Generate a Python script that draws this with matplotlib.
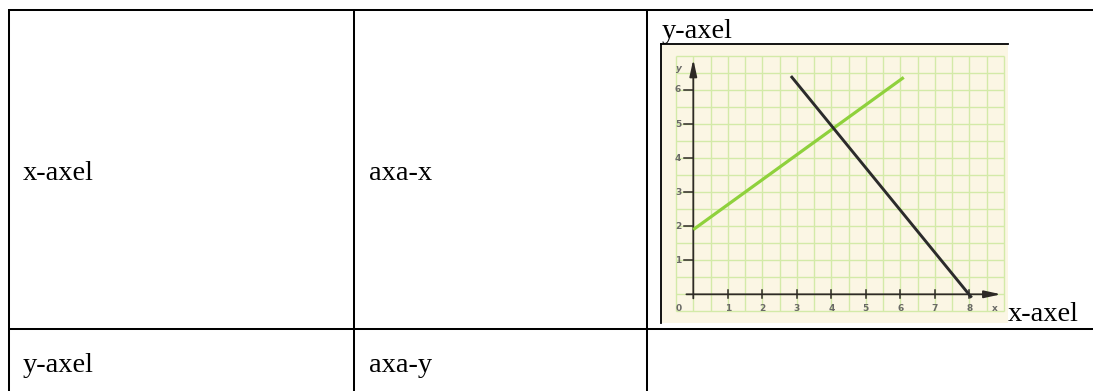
import numpy as np
import matplotlib
matplotlib.use("Agg")
import matplotlib.pyplot as plt

# ---------------- data ----------------
col1_texts = ["x-axel", "y-axel"]
col2_texts = ["axa-x", "axa-y"]
image_top_label = "y-axel"
image_right_label = "x-axel"

green_x = [0.0, 6.1]
green_y = [1.9, 6.37]
black_x = [2.83, 8.07]
black_y = [6.41, -0.1]

x_tick_values = [1, 2, 3, 4, 5, 6, 7, 8]
y_tick_values = [1, 2, 3, 4, 5, 6]
x_tick_labels = ["1", "2", "3", "4", "5", "6", "7", "8"]
y_tick_labels = ["1", "2", "3", "4", "5", "6"]

# ---------------- figure ----------------
W, H = 1093, 391
fig = plt.figure(figsize=(W / 100, H / 100), dpi=100)
fig.patch.set_facecolor("white")

bg = fig.add_axes([0, 0, 1, 1])
bg.set_xlim(0, W)
bg.set_ylim(H, 0)
bg.axis("off")

serif = ["Liberation Serif", "DejaVu Serif"]
tfs = 20.5
lw_tab = 1.45

# table lines
bg.plot([9, W + 5], [10, 10], color="black", lw=lw_tab, solid_capstyle="butt")
bg.plot([9, W + 5], [328.5, 328.5], color="black", lw=lw_tab, solid_capstyle="butt")
for xv in [9.3, 354, 647]:
    bg.plot([xv, xv], [9.3, H + 5], color="black", lw=lw_tab, solid_capstyle="butt")

# cell texts
row_baselines = [180.5, 372]
for i, (t1, t2) in enumerate(zip(col1_texts, col2_texts)):
    bg.text(23, row_baselines[i], t1, family=serif, fontsize=tfs, va="baseline", ha="left", color="black")
    bg.text(369, row_baselines[i], t2, family=serif, fontsize=tfs, va="baseline", ha="left", color="black")

bg.text(662, 38.5, image_top_label, family=serif, fontsize=tfs, va="baseline", ha="left", color="black")
bg.text(1008, 321, image_right_label, family=serif, fontsize=tfs, va="baseline", ha="left", color="black")

# ---------------- embedded graph ----------------
L, R, T, B = 661, 1008, 44, 323
ax = fig.add_axes([L / W, (H - B) / H, (R - L) / W, (B - T) / H])
x0px, xunit = 693.3, 34.5
y0px, yunit = 294.3, 34.05
ax.set_xlim((L - x0px) / xunit, (R - x0px) / xunit)
ax.set_ylim((y0px - B) / yunit, (y0px - T) / yunit)
ax.set_facecolor("#fbf6e4")
for s in ["right", "bottom"]:
    ax.spines[s].set_visible(False)
for s in ["left", "top"]:
    ax.spines[s].set_color("black")
    ax.spines[s].set_linewidth(1.3)
ax.set_xticks([])
ax.set_yticks([])

# grid
gx = np.arange(-0.5, 9.01, 0.5)
gy = np.arange(-0.5, 7.01, 0.5)
grid_col = "#d3eaa8"
ax.vlines(gx, -0.5, 7.0, color=grid_col, lw=1.0, zorder=1)
ax.hlines(gy, -0.5, 9.0, color=grid_col, lw=1.0, zorder=1)

# axes with arrows
axis_col = "#2e2a26"
ax.annotate("", xy=(0, 6.9), xytext=(0, -0.12),
            arrowprops=dict(arrowstyle="-|>,head_length=1.0,head_width=0.22",
                            color=axis_col, lw=1.3, shrinkA=0, shrinkB=0), zorder=3)
ax.annotate("", xy=(8.92, 0), xytext=(-0.2, 0),
            arrowprops=dict(arrowstyle="-|>,head_length=1.0,head_width=0.22",
                            color=axis_col, lw=1.3, shrinkA=0, shrinkB=0), zorder=3)

# ticks
for xv in x_tick_values:
    ax.plot([xv, xv], [-0.1, 0.12], color=axis_col, lw=1.1, zorder=3)
for yv in y_tick_values:
    ax.plot([-0.28, 0], [yv, yv], color=axis_col, lw=1.1, zorder=3)

lab_kw = dict(fontsize=6.5, fontweight="bold", color="#6a6a66", family="DejaVu Sans", zorder=4)
for xv, lab in zip(x_tick_values, x_tick_labels):
    ax.text(xv, -0.42, lab, ha="center", va="center", **lab_kw)
for yv, lab in zip(y_tick_values, y_tick_labels):
    ax.text(-0.44, yv, lab, ha="center", va="center", **lab_kw)
ax.text(-0.42, -0.42, "0", ha="center", va="center", **lab_kw)
ax.text(8.75, -0.42, "x", ha="center", va="center", **lab_kw)
ax.text(-0.42, 6.64, "y", ha="center", va="center", style="italic", **lab_kw)

# lines
ax.plot(green_x, green_y, color="#8fd13c", lw=2.3, solid_capstyle="butt", zorder=5)
ax.plot(black_x, black_y, color="#2b2b2b", lw=2.1, solid_capstyle="butt", zorder=5)

fig.savefig("out.png", dpi=100, facecolor="white")
